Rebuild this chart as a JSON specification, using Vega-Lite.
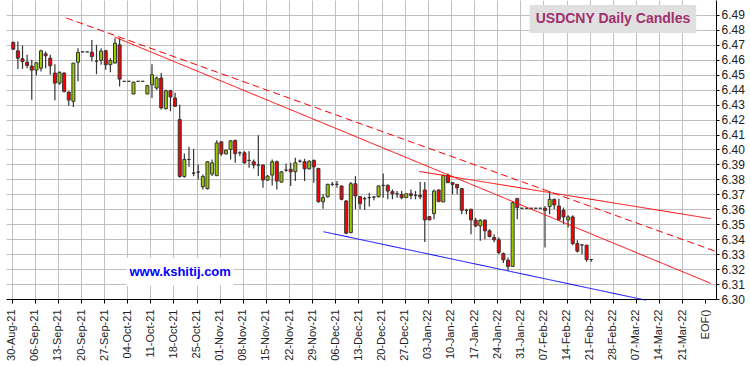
{
  "$schema": "https://vega.github.io/schema/vega-lite/v6.json",
  "width": 710,
  "height": 299,
  "autosize": {"type": "none"},
  "padding": {"left": 6, "top": 0, "right": 34, "bottom": 67},
  "background": "white",
  "config": {
    "view": {"stroke": null},
    "axis": {
      "title": null,
      "labelFont": "Liberation Sans",
      "labelColor": "#222222",
      "labelOverlap": false,
      "labelBound": false,
      "labelFlush": false,
      "tickColor": "#000000",
      "domainColor": "#000000",
      "domainWidth": 1,
      "grid": true,
      "gridColor": "#c0c0c0",
      "gridWidth": 1
    },
    "axisX": {"labelAngle": 270, "labelAlign": "right", "labelBaseline": "middle", "labelFontSize": 11, "labelPadding": 6, "tickSize": 4},
    "axisY": {"labelFontSize": 12, "labelPadding": 2, "tickSize": 3}
  },
  "datasets": {
    "candles": [
      {"i":0,"o":6.4716,"h":6.4722,"l":6.4667,"c":6.4671},
      {"i":1,"o":6.4660,"h":6.4722,"l":6.4538,"c":6.4611},
      {"i":2,"o":6.4607,"h":6.4696,"l":6.4540,"c":6.4589},
      {"i":3,"o":6.4584,"h":6.4633,"l":6.4544,"c":6.4562},
      {"i":4,"o":6.4558,"h":6.4600,"l":6.4333,"c":6.4531},
      {"i":5,"o":6.4531,"h":6.4582,"l":6.4496,"c":6.4580},
      {"i":6,"o":6.4544,"h":6.4667,"l":6.4522,"c":6.4660},
      {"i":7,"o":6.4640,"h":6.4656,"l":6.4544,"c":6.4627},
      {"i":8,"o":6.4611,"h":6.4633,"l":6.4500,"c":6.4560},
      {"i":9,"o":6.4511,"h":6.4571,"l":6.4329,"c":6.4444},
      {"i":10,"o":6.4444,"h":6.4522,"l":6.4433,"c":6.4516},
      {"i":11,"o":6.4511,"h":6.4516,"l":6.4382,"c":6.4389},
      {"i":12,"o":6.4384,"h":6.4389,"l":6.4293,"c":6.4331},
      {"i":13,"o":6.4322,"h":6.4578,"l":6.4284,"c":6.4578},
      {"i":14,"o":6.4584,"h":6.4678,"l":6.4456,"c":6.4649},
      {"i":15,"o":6.4653,"h":6.4653,"l":6.4653,"c":6.4653},
      {"i":16,"o":6.4653,"h":6.4653,"l":6.4653,"c":6.4653},
      {"i":17,"o":6.4651,"h":6.4733,"l":6.4589,"c":6.4622},
      {"i":18,"o":6.4591,"h":6.4700,"l":6.4504,"c":6.4591},
      {"i":19,"o":6.4596,"h":6.4678,"l":6.4567,"c":6.4658},
      {"i":20,"o":6.4660,"h":6.4667,"l":6.4533,"c":6.4567},
      {"i":21,"o":6.4567,"h":6.4611,"l":6.4516,"c":6.4596},
      {"i":22,"o":6.4578,"h":6.4744,"l":6.4578,"c":6.4711},
      {"i":23,"o":6.4700,"h":6.4744,"l":6.4422,"c":6.4471},
      {"i":24,"o":6.4456,"h":6.4456,"l":6.4456,"c":6.4456},
      {"i":25,"o":6.4456,"h":6.4456,"l":6.4456,"c":6.4456},
      {"i":26,"o":6.4371,"h":6.4451,"l":6.4371,"c":6.4451},
      {"i":27,"o":6.4456,"h":6.4456,"l":6.4456,"c":6.4456},
      {"i":28,"o":6.4456,"h":6.4456,"l":6.4456,"c":6.4456},
      {"i":29,"o":6.4371,"h":6.4433,"l":6.4371,"c":6.4427},
      {"i":30,"o":6.4433,"h":6.4571,"l":6.4344,"c":6.4500},
      {"i":31,"o":6.4411,"h":6.4489,"l":6.4400,"c":6.4478},
      {"i":32,"o":6.4478,"h":6.4511,"l":6.4267,"c":6.4278},
      {"i":33,"o":6.4273,"h":6.4400,"l":6.4267,"c":6.4393},
      {"i":34,"o":6.4393,"h":6.4400,"l":6.4256,"c":6.4351},
      {"i":35,"o":6.4344,"h":6.4380,"l":6.4284,"c":6.4289},
      {"i":36,"o":6.4200,"h":6.4300,"l":6.3811,"c":6.3820},
      {"i":37,"o":6.3820,"h":6.3973,"l":6.3811,"c":6.3933},
      {"i":38,"o":6.3933,"h":6.4018,"l":6.3885,"c":6.3933},
      {"i":39,"o":6.3842,"h":6.4004,"l":6.3822,"c":6.3842},
      {"i":40,"o":6.3849,"h":6.3900,"l":6.3800,"c":6.3849},
      {"i":41,"o":6.3751,"h":6.3833,"l":6.3733,"c":6.3820},
      {"i":42,"o":6.3738,"h":6.3922,"l":6.3733,"c":6.3918},
      {"i":43,"o":6.3836,"h":6.3933,"l":6.3822,"c":6.3911},
      {"i":44,"o":6.3825,"h":6.4062,"l":6.3822,"c":6.4044},
      {"i":45,"o":6.4051,"h":6.4056,"l":6.3958,"c":6.3971},
      {"i":46,"o":6.3971,"h":6.4000,"l":6.3967,"c":6.3995},
      {"i":47,"o":6.4000,"h":6.4060,"l":6.3933,"c":6.4058},
      {"i":48,"o":6.4060,"h":6.4067,"l":6.3911,"c":6.3972},
      {"i":49,"o":6.3978,"h":6.3989,"l":6.3956,"c":6.3978},
      {"i":50,"o":6.3978,"h":6.3989,"l":6.3905,"c":6.3911},
      {"i":51,"o":6.3927,"h":6.3989,"l":6.3878,"c":6.3927},
      {"i":52,"o":6.3918,"h":6.3933,"l":6.3873,"c":6.3896},
      {"i":53,"o":6.3896,"h":6.4096,"l":6.3822,"c":6.3896},
      {"i":54,"o":6.3896,"h":6.3900,"l":6.3744,"c":6.3796},
      {"i":55,"o":6.3796,"h":6.3829,"l":6.3789,"c":6.3822},
      {"i":56,"o":6.3829,"h":6.3933,"l":6.3760,"c":6.3918},
      {"i":57,"o":6.3918,"h":6.3927,"l":6.3733,"c":6.3789},
      {"i":58,"o":6.3782,"h":6.3856,"l":6.3778,"c":6.3851},
      {"i":59,"o":6.3862,"h":6.3907,"l":6.3851,"c":6.3862},
      {"i":60,"o":6.3867,"h":6.3911,"l":6.3756,"c":6.3851},
      {"i":61,"o":6.3851,"h":6.3944,"l":6.3789,"c":6.3911},
      {"i":62,"o":6.3922,"h":6.3933,"l":6.3911,"c":6.3922},
      {"i":63,"o":6.3918,"h":6.3938,"l":6.3789,"c":6.3871},
      {"i":64,"o":6.3871,"h":6.3927,"l":6.3867,"c":6.3922},
      {"i":65,"o":6.3927,"h":6.3933,"l":6.3778,"c":6.3884},
      {"i":66,"o":6.3873,"h":6.3878,"l":6.3644,"c":6.3651},
      {"i":67,"o":6.3651,"h":6.3700,"l":6.3604,"c":6.3678},
      {"i":68,"o":6.3684,"h":6.3771,"l":6.3678,"c":6.3767},
      {"i":69,"o":6.3767,"h":6.3782,"l":6.3756,"c":6.3767},
      {"i":70,"o":6.3767,"h":6.3789,"l":6.3744,"c":6.3767},
      {"i":71,"o":6.3756,"h":6.3760,"l":6.3660,"c":6.3667},
      {"i":72,"o":6.3656,"h":6.3660,"l":6.3433,"c":6.3440},
      {"i":73,"o":6.3444,"h":6.3782,"l":6.3440,"c":6.3771},
      {"i":74,"o":6.3771,"h":6.3822,"l":6.3600,"c":6.3689},
      {"i":75,"o":6.3684,"h":6.3689,"l":6.3600,"c":6.3638},
      {"i":76,"o":6.3671,"h":6.3684,"l":6.3596,"c":6.3671},
      {"i":77,"o":6.3678,"h":6.3711,"l":6.3618,"c":6.3678},
      {"i":78,"o":6.3682,"h":6.3689,"l":6.3660,"c":6.3682},
      {"i":79,"o":6.3684,"h":6.3760,"l":6.3680,"c":6.3756},
      {"i":80,"o":6.3760,"h":6.3840,"l":6.3678,"c":6.3760},
      {"i":81,"o":6.3760,"h":6.3767,"l":6.3667,"c":6.3722},
      {"i":82,"o":6.3718,"h":6.3733,"l":6.3667,"c":6.3704},
      {"i":83,"o":6.3704,"h":6.3722,"l":6.3678,"c":6.3704},
      {"i":84,"o":6.3700,"h":6.3722,"l":6.3667,"c":6.3678},
      {"i":85,"o":6.3678,"h":6.3704,"l":6.3678,"c":6.3704},
      {"i":86,"o":6.3704,"h":6.3733,"l":6.3667,"c":6.3693},
      {"i":87,"o":6.3693,"h":6.3722,"l":6.3667,"c":6.3693},
      {"i":88,"o":6.3693,"h":6.3782,"l":6.3667,"c":6.3684},
      {"i":89,"o":6.3729,"h":6.3782,"l":6.3382,"c":6.3529},
      {"i":90,"o":6.3551,"h":6.3556,"l":6.3529,"c":6.3529},
      {"i":91,"o":6.3571,"h":6.3733,"l":6.3533,"c":6.3722},
      {"i":92,"o":6.3729,"h":6.3733,"l":6.3651,"c":6.3651},
      {"i":93,"o":6.3649,"h":6.3833,"l":6.3649,"c":6.3827},
      {"i":94,"o":6.3827,"h":6.3840,"l":6.3778,"c":6.3778},
      {"i":95,"o":6.3778,"h":6.3782,"l":6.3700,"c":6.3767},
      {"i":96,"o":6.3767,"h":6.3770,"l":6.3700,"c":6.3744},
      {"i":97,"o":6.3738,"h":6.3744,"l":6.3567,"c":6.3593},
      {"i":98,"o":6.3593,"h":6.3604,"l":6.3567,"c":6.3593},
      {"i":99,"o":6.3600,"h":6.3604,"l":6.3433,"c":6.3529},
      {"i":100,"o":6.3527,"h":6.3544,"l":6.3480,"c":6.3489},
      {"i":101,"o":6.3489,"h":6.3533,"l":6.3389,"c":6.3527},
      {"i":102,"o":6.3527,"h":6.3533,"l":6.3400,"c":6.3456},
      {"i":103,"o":6.3456,"h":6.3467,"l":6.3411,"c":6.3418},
      {"i":104,"o":6.3411,"h":6.3433,"l":6.3380,"c":6.3396},
      {"i":105,"o":6.3396,"h":6.3411,"l":6.3300,"c":6.3311},
      {"i":106,"o":6.3304,"h":6.3311,"l":6.3240,"c":6.3262},
      {"i":107,"o":6.3260,"h":6.3278,"l":6.3189,"c":6.3218},
      {"i":108,"o":6.3218,"h":6.3656,"l":6.3218,"c":6.3644},
      {"i":109,"o":6.3671,"h":6.3678,"l":6.3533,"c":6.3611},
      {"i":110,"o":6.3607,"h":6.3607,"l":6.3607,"c":6.3607},
      {"i":111,"o":6.3607,"h":6.3607,"l":6.3607,"c":6.3607},
      {"i":112,"o":6.3607,"h":6.3607,"l":6.3607,"c":6.3607},
      {"i":113,"o":6.3607,"h":6.3607,"l":6.3607,"c":6.3607},
      {"i":114,"o":6.3607,"h":6.3607,"l":6.3607,"c":6.3607},
      {"i":115,"o":6.3607,"h":6.3622,"l":6.3344,"c":6.3593},
      {"i":116,"o":6.3618,"h":6.3722,"l":6.3567,"c":6.3667},
      {"i":117,"o":6.3667,"h":6.3671,"l":6.3600,"c":6.3629},
      {"i":118,"o":6.3622,"h":6.3671,"l":6.3522,"c":6.3533},
      {"i":119,"o":6.3593,"h":6.3611,"l":6.3500,"c":6.3549},
      {"i":120,"o":6.3529,"h":6.3560,"l":6.3478,"c":6.3549},
      {"i":121,"o":6.3549,"h":6.3560,"l":6.3360,"c":6.3371},
      {"i":122,"o":6.3371,"h":6.3393,"l":6.3311,"c":6.3320},
      {"i":123,"o":6.3362,"h":6.3364,"l":6.3300,"c":6.3362},
      {"i":124,"o":6.3360,"h":6.3362,"l":6.3249,"c":6.3264},
      {"i":125,"o":6.3264,"h":6.3264,"l":6.3249,"c":6.3264}
    ],
    "lines": [
      {"line":"dashed","i":11.45,"v":6.4880},
      {"line":"dashed","i":152.4,"v":6.3313},
      {"line":"long","i":21.9,"v":6.4753},
      {"line":"long","i":150.9,"v":6.3104},
      {"line":"upper","i":87.8,"v":6.3853},
      {"line":"upper","i":150.9,"v":6.3537},
      {"line":"blue","i":67.1,"v":6.3450},
      {"line":"blue","i":136.8,"v":6.2992}
    ]
  },
  "layer": [
    {
      "data": {"name": "candles"},
      "mark": {"type": "rule", "color": "#333333", "strokeWidth": 1.2},
      "encoding": {
        "x": {"field": "i", "type": "quantitative",
          "scale": {"domain": [-0.49, 150.9], "nice": false, "zero": false},
          "axis": {"values": [-0.35,4.65,9.65,14.65,19.65,24.65,29.65,34.65,39.65,44.65,49.65,54.65,59.65,64.65,69.65,74.65,79.65,84.65,89.65,94.65,99.65,104.65,109.65,114.65,119.65,124.65,129.65,134.65,139.65,144.65,149.65],
            "labelExpr": "['30-Aug-21','06-Sep-21','13-Sep-21','20-Sep-21','27-Sep-21','04-Oct-21','11-Oct-21','18-Oct-21','25-Oct-21','01-Nov-21','08-Nov-21','15-Nov-21','22-Nov-21','29-Nov-21','06-Dec-21','13-Dec-21','20-Dec-21','27-Dec-21','03-Jan-22','10-Jan-22','17-Jan-22','24-Jan-22','31-Jan-22','07-Feb-22','14-Feb-22','21-Feb-22','28-Feb-22','07-Mar-22','14-Mar-22','21-Mar-22','EOF()'][round((datum.value + 0.35) / 5)]",
            "gridOpacity": {"condition": {"test": "datum.value > 149", "value": 0}, "value": 1}}},
        "y": {"field": "l", "type": "quantitative",
          "scale": {"domain": [6.30, 6.50], "nice": false, "zero": false},
          "axis": {"orient": "right", "format": ".2f", "values": [6.30,6.31,6.32,6.33,6.34,6.35,6.36,6.37,6.38,6.39,6.40,6.41,6.42,6.43,6.44,6.45,6.46,6.47,6.48,6.49]}},
        "y2": {"field": "h"}
      }
    },
    {
      "data": {"name": "candles"},
      "mark": {"type": "bar", "size": 3, "stroke": "#333333", "strokeWidth": 1},
      "encoding": {
        "x": {"field": "i", "type": "quantitative",
          "axis": {"values": [-0.35,4.65,9.65,14.65,19.65,24.65,29.65,34.65,39.65,44.65,49.65,54.65,59.65,64.65,69.65,74.65,79.65,84.65,89.65,94.65,99.65,104.65,109.65,114.65,119.65,124.65,129.65,134.65,139.65,144.65,149.65],
            "labelExpr": "['30-Aug-21','06-Sep-21','13-Sep-21','20-Sep-21','27-Sep-21','04-Oct-21','11-Oct-21','18-Oct-21','25-Oct-21','01-Nov-21','08-Nov-21','15-Nov-21','22-Nov-21','29-Nov-21','06-Dec-21','13-Dec-21','20-Dec-21','27-Dec-21','03-Jan-22','10-Jan-22','17-Jan-22','24-Jan-22','31-Jan-22','07-Feb-22','14-Feb-22','21-Feb-22','28-Feb-22','07-Mar-22','14-Mar-22','21-Mar-22','EOF()'][round((datum.value + 0.35) / 5)]",
            "gridOpacity": {"condition": {"test": "datum.value > 149", "value": 0}, "value": 1}}},
        "y": {"field": "o", "type": "quantitative",
          "axis": {"orient": "right", "format": ".2f", "values": [6.30,6.31,6.32,6.33,6.34,6.35,6.36,6.37,6.38,6.39,6.40,6.41,6.42,6.43,6.44,6.45,6.46,6.47,6.48,6.49]}},
        "y2": {"field": "c"},
        "fill": {"condition": {"test": "datum.o > datum.c", "value": "#ff0000"}, "value": "#99cc00"}
      }
    },
    {
      "data": {"name": "lines"},
      "mark": {"type": "line", "strokeWidth": 1, "clip": false},
      "encoding": {
        "x": {"field": "i", "type": "quantitative",
          "axis": {"values": [-0.35,4.65,9.65,14.65,19.65,24.65,29.65,34.65,39.65,44.65,49.65,54.65,59.65,64.65,69.65,74.65,79.65,84.65,89.65,94.65,99.65,104.65,109.65,114.65,119.65,124.65,129.65,134.65,139.65,144.65,149.65],
            "labelExpr": "['30-Aug-21','06-Sep-21','13-Sep-21','20-Sep-21','27-Sep-21','04-Oct-21','11-Oct-21','18-Oct-21','25-Oct-21','01-Nov-21','08-Nov-21','15-Nov-21','22-Nov-21','29-Nov-21','06-Dec-21','13-Dec-21','20-Dec-21','27-Dec-21','03-Jan-22','10-Jan-22','17-Jan-22','24-Jan-22','31-Jan-22','07-Feb-22','14-Feb-22','21-Feb-22','28-Feb-22','07-Mar-22','14-Mar-22','21-Mar-22','EOF()'][round((datum.value + 0.35) / 5)]",
            "gridOpacity": {"condition": {"test": "datum.value > 149", "value": 0}, "value": 1}}},
        "y": {"field": "v", "type": "quantitative",
          "axis": {"orient": "right", "format": ".2f", "values": [6.30,6.31,6.32,6.33,6.34,6.35,6.36,6.37,6.38,6.39,6.40,6.41,6.42,6.43,6.44,6.45,6.46,6.47,6.48,6.49]}},
        "detail": {"field": "line"},
        "color": {"field": "line", "type": "nominal", "scale": {"domain": ["dashed","long","upper","blue"], "range": ["#ff0000","#ff0000","#ff0000","#0000ff"]}, "legend": null},
        "strokeDash": {"field": "line", "type": "nominal", "scale": {"domain": ["dashed","long","upper","blue"], "range": [[7,4],[1,0],[1,0],[1,0]]}, "legend": null}
      }
    },
    {
      "data": {"values": [{}]},
      "mark": {"type": "rect", "fill": "#e0e0e0"},
      "encoding": {
        "x": {"datum": 111.7, "type": "quantitative",
          "axis": {"values": [-0.35,4.65,9.65,14.65,19.65,24.65,29.65,34.65,39.65,44.65,49.65,54.65,59.65,64.65,69.65,74.65,79.65,84.65,89.65,94.65,99.65,104.65,109.65,114.65,119.65,124.65,129.65,134.65,139.65,144.65,149.65],
            "labelExpr": "['30-Aug-21','06-Sep-21','13-Sep-21','20-Sep-21','27-Sep-21','04-Oct-21','11-Oct-21','18-Oct-21','25-Oct-21','01-Nov-21','08-Nov-21','15-Nov-21','22-Nov-21','29-Nov-21','06-Dec-21','13-Dec-21','20-Dec-21','27-Dec-21','03-Jan-22','10-Jan-22','17-Jan-22','24-Jan-22','31-Jan-22','07-Feb-22','14-Feb-22','21-Feb-22','28-Feb-22','07-Mar-22','14-Mar-22','21-Mar-22','EOF()'][round((datum.value + 0.35) / 5)]",
            "gridOpacity": {"condition": {"test": "datum.value > 149", "value": 0}, "value": 1}}},
        "x2": {"datum": 147.7},
        "y": {"datum": 6.4967, "type": "quantitative",
          "axis": {"orient": "right", "format": ".2f", "values": [6.30,6.31,6.32,6.33,6.34,6.35,6.36,6.37,6.38,6.39,6.40,6.41,6.42,6.43,6.44,6.45,6.46,6.47,6.48,6.49]}},
        "y2": {"datum": 6.4780}
      }
    },
    {
      "data": {"values": [{}]},
      "mark": {"type": "text", "text": "USDCNY Daily Candles", "font": "Liberation Sans", "fontWeight": "bold", "fontSize": 14, "color": "#a0306e", "align": "center", "baseline": "middle"},
      "encoding": {
        "x": {"datum": 129.7, "type": "quantitative",
          "axis": {"values": [-0.35,4.65,9.65,14.65,19.65,24.65,29.65,34.65,39.65,44.65,49.65,54.65,59.65,64.65,69.65,74.65,79.65,84.65,89.65,94.65,99.65,104.65,109.65,114.65,119.65,124.65,129.65,134.65,139.65,144.65,149.65],
            "labelExpr": "['30-Aug-21','06-Sep-21','13-Sep-21','20-Sep-21','27-Sep-21','04-Oct-21','11-Oct-21','18-Oct-21','25-Oct-21','01-Nov-21','08-Nov-21','15-Nov-21','22-Nov-21','29-Nov-21','06-Dec-21','13-Dec-21','20-Dec-21','27-Dec-21','03-Jan-22','10-Jan-22','17-Jan-22','24-Jan-22','31-Jan-22','07-Feb-22','14-Feb-22','21-Feb-22','28-Feb-22','07-Mar-22','14-Mar-22','21-Mar-22','EOF()'][round((datum.value + 0.35) / 5)]",
            "gridOpacity": {"condition": {"test": "datum.value > 149", "value": 0}, "value": 1}}},
        "y": {"datum": 6.4874, "type": "quantitative",
          "axis": {"orient": "right", "format": ".2f", "values": [6.30,6.31,6.32,6.33,6.34,6.35,6.36,6.37,6.38,6.39,6.40,6.41,6.42,6.43,6.44,6.45,6.46,6.47,6.48,6.49]}}
      }
    },
    {
      "data": {"values": [{}]},
      "mark": {"type": "rect", "fill": "#ffffff"},
      "encoding": {
        "x": {"datum": 24.5, "type": "quantitative",
          "axis": {"values": [-0.35,4.65,9.65,14.65,19.65,24.65,29.65,34.65,39.65,44.65,49.65,54.65,59.65,64.65,69.65,74.65,79.65,84.65,89.65,94.65,99.65,104.65,109.65,114.65,119.65,124.65,129.65,134.65,139.65,144.65,149.65],
            "labelExpr": "['30-Aug-21','06-Sep-21','13-Sep-21','20-Sep-21','27-Sep-21','04-Oct-21','11-Oct-21','18-Oct-21','25-Oct-21','01-Nov-21','08-Nov-21','15-Nov-21','22-Nov-21','29-Nov-21','06-Dec-21','13-Dec-21','20-Dec-21','27-Dec-21','03-Jan-22','10-Jan-22','17-Jan-22','24-Jan-22','31-Jan-22','07-Feb-22','14-Feb-22','21-Feb-22','28-Feb-22','07-Mar-22','14-Mar-22','21-Mar-22','EOF()'][round((datum.value + 0.35) / 5)]",
            "gridOpacity": {"condition": {"test": "datum.value > 149", "value": 0}, "value": 1}}},
        "x2": {"datum": 47.7},
        "y": {"datum": 6.3276, "type": "quantitative",
          "axis": {"orient": "right", "format": ".2f", "values": [6.30,6.31,6.32,6.33,6.34,6.35,6.36,6.37,6.38,6.39,6.40,6.41,6.42,6.43,6.44,6.45,6.46,6.47,6.48,6.49]}},
        "y2": {"datum": 6.3089}
      }
    },
    {
      "data": {"values": [{}]},
      "mark": {"type": "text", "text": "www.kshitij.com", "font": "Liberation Sans", "fontWeight": "bold", "fontSize": 13, "color": "#0000ff", "align": "center", "baseline": "middle"},
      "encoding": {
        "x": {"datum": 36.1, "type": "quantitative",
          "axis": {"values": [-0.35,4.65,9.65,14.65,19.65,24.65,29.65,34.65,39.65,44.65,49.65,54.65,59.65,64.65,69.65,74.65,79.65,84.65,89.65,94.65,99.65,104.65,109.65,114.65,119.65,124.65,129.65,134.65,139.65,144.65,149.65],
            "labelExpr": "['30-Aug-21','06-Sep-21','13-Sep-21','20-Sep-21','27-Sep-21','04-Oct-21','11-Oct-21','18-Oct-21','25-Oct-21','01-Nov-21','08-Nov-21','15-Nov-21','22-Nov-21','29-Nov-21','06-Dec-21','13-Dec-21','20-Dec-21','27-Dec-21','03-Jan-22','10-Jan-22','17-Jan-22','24-Jan-22','31-Jan-22','07-Feb-22','14-Feb-22','21-Feb-22','28-Feb-22','07-Mar-22','14-Mar-22','21-Mar-22','EOF()'][round((datum.value + 0.35) / 5)]",
            "gridOpacity": {"condition": {"test": "datum.value > 149", "value": 0}, "value": 1}}},
        "y": {"datum": 6.3182, "type": "quantitative",
          "axis": {"orient": "right", "format": ".2f", "values": [6.30,6.31,6.32,6.33,6.34,6.35,6.36,6.37,6.38,6.39,6.40,6.41,6.42,6.43,6.44,6.45,6.46,6.47,6.48,6.49]}}
      }
    }
  ]
}
